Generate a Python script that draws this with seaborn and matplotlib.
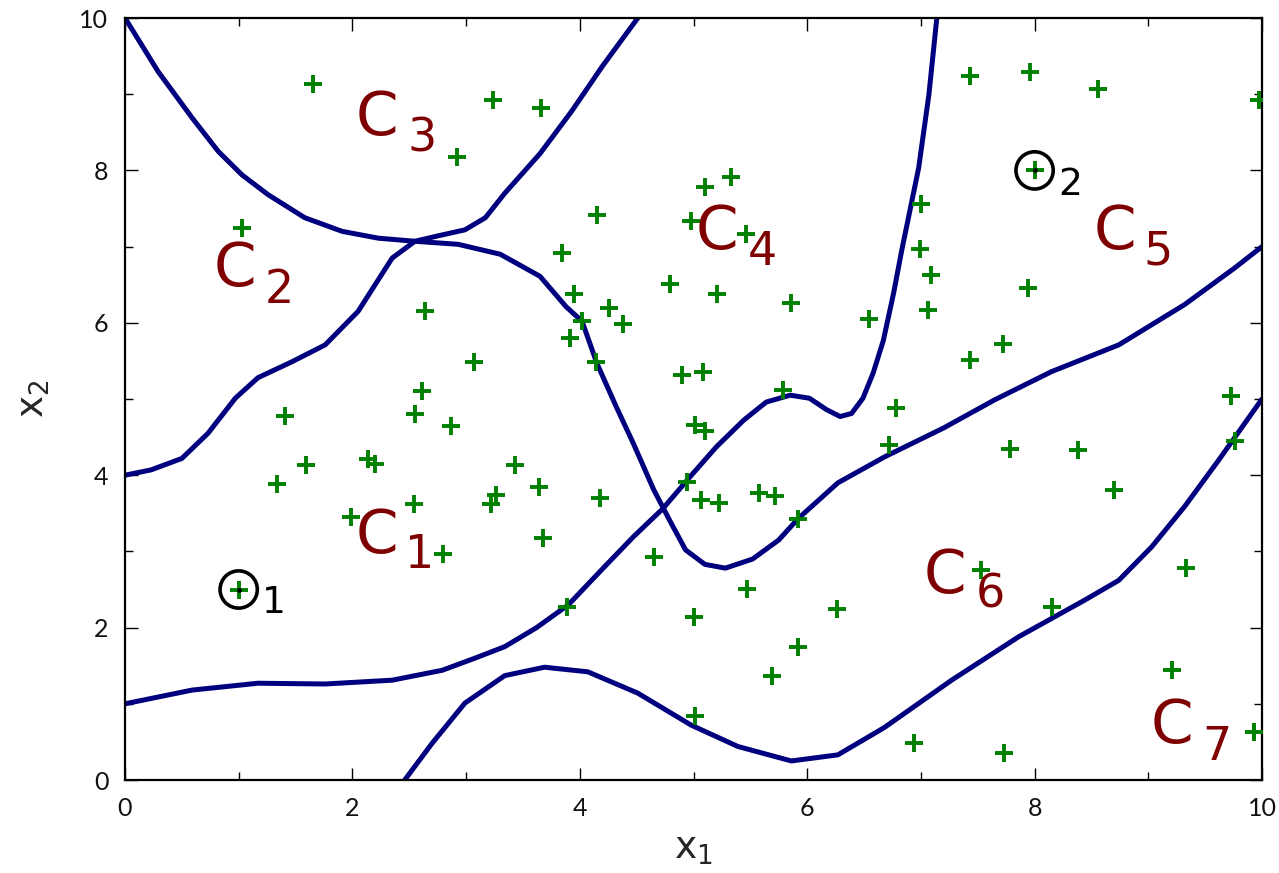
import numpy as np
import pandas as pd
import matplotlib
matplotlib.use("Agg")
import matplotlib.pyplot as plt
import seaborn as sns

# ---------------- data ----------------
pts_x = [1.65, 3.24, 2.92, 1.03, 2.64, 3.07, 2.61, 3.66, 4.15, 3.84, 5.33, 5.10, 4.98, 5.46,
         4.79, 3.95, 4.26, 4.38, 4.02, 3.91, 5.21, 5.86, 6.54, 4.14, 4.90, 5.08, 5.79,
         7.43, 7.96, 8.56, 9.97, 8.00, 7.00, 6.99, 7.09, 7.06, 7.94, 7.72, 7.43, 9.73,
         1.41, 2.55, 2.87, 1.59, 2.14, 2.20, 1.34, 1.99, 2.54, 3.22, 3.26, 2.80, 1.00,
         3.43, 3.64, 4.18, 3.68, 5.01, 5.10, 4.94, 5.07, 5.22, 5.58, 5.72, 5.92, 4.65,
         5.47, 3.89, 5.00, 6.26, 5.92, 5.69, 5.01, 6.78, 6.72, 7.78, 8.38, 8.70, 9.76,
         7.53, 8.15, 9.33, 9.21, 9.93, 6.94, 7.73]
pts_y = [9.14, 8.93, 8.17, 7.25, 6.16, 5.49, 5.10, 8.82, 7.41, 6.91, 7.91, 7.78, 7.33, 7.16,
         6.51, 6.38, 6.20, 5.99, 6.02, 5.80, 6.38, 6.26, 6.05, 5.48, 5.31, 5.36, 5.12,
         9.24, 9.29, 9.07, 8.93, 8.00, 7.56, 6.97, 6.63, 6.17, 6.46, 5.72, 5.51, 5.04,
         4.78, 4.80, 4.64, 4.13, 4.21, 4.15, 3.88, 3.45, 3.62, 3.62, 3.74, 2.97, 2.50,
         4.13, 3.84, 3.70, 3.17, 4.66, 4.58, 3.91, 3.67, 3.64, 3.77, 3.73, 3.43, 2.92,
         2.51, 2.27, 2.14, 2.25, 1.74, 1.36, 0.84, 4.88, 4.40, 4.35, 4.33, 3.81, 4.45,
         2.76, 2.27, 2.78, 1.45, 0.63, 0.49, 0.36]

# query points (circled)
query_x = [1.0, 8.0]
query_y = [2.5, 8.0]
query_labels = ["1", "2"]

# decision boundaries
b1_x = [0.0, 0.29, 0.59, 0.82, 1.03, 1.26, 1.58, 1.91, 2.23, 2.55, 2.93, 3.30, 3.65, 3.88,
        4.02, 4.15, 4.32, 4.47, 4.65, 4.80, 4.93, 5.10, 5.28, 5.52, 5.75, 5.92, 6.27, 6.68,
        7.20, 7.65, 8.15, 8.74, 9.32, 9.76, 10.0]
b1_y = [10.0, 9.30, 8.69, 8.25, 7.94, 7.68, 7.38, 7.20, 7.11, 7.07, 7.03, 6.90, 6.61, 6.21,
        6.02, 5.47, 4.90, 4.42, 3.81, 3.38, 3.02, 2.83, 2.78, 2.90, 3.15, 3.43, 3.90, 4.24,
        4.62, 4.99, 5.36, 5.71, 6.24, 6.72, 7.0]

b2_x = [0.0, 0.23, 0.50, 0.73, 0.97, 1.17, 1.47, 1.76, 2.05, 2.35, 2.55, 2.75, 2.99, 3.17,
        3.34, 3.65, 3.93, 4.20, 4.51]
b2_y = [4.0, 4.07, 4.22, 4.55, 5.01, 5.28, 5.49, 5.71, 6.15, 6.85, 7.07, 7.14, 7.22, 7.38,
        7.70, 8.22, 8.78, 9.37, 10.0]

b3_x = [0.0, 0.59, 1.17, 1.76, 2.35, 2.79, 3.08, 3.34, 3.62, 3.90, 4.18, 4.47, 4.73, 4.97,
        5.20, 5.44, 5.64, 5.85, 6.02, 6.17, 6.29, 6.39, 6.49, 6.58, 6.67, 6.76, 6.83, 6.98,
        7.07, 7.14]
b3_y = [1.0, 1.18, 1.27, 1.26, 1.31, 1.44, 1.60, 1.75, 2.00, 2.30, 2.74, 3.19, 3.56, 3.98,
        4.37, 4.72, 4.96, 5.05, 5.01, 4.86, 4.77, 4.81, 5.01, 5.34, 5.77, 6.39, 6.94, 8.03,
        8.99, 10.0]

b4_x = [2.46, 2.70, 2.99, 3.34, 3.69, 4.07, 4.51, 4.98, 5.39, 5.86, 6.27, 6.68, 7.27, 7.86,
        8.44, 8.74, 9.03, 9.32, 9.62, 10.0]
b4_y = [0.0, 0.48, 1.01, 1.37, 1.48, 1.42, 1.14, 0.72, 0.44, 0.25, 0.33, 0.69, 1.31, 1.88,
        2.36, 2.62, 3.06, 3.59, 4.20, 5.0]

boundaries = [(b1_x, b1_y), (b2_x, b2_y), (b3_x, b3_y), (b4_x, b4_y)]

# class labels: name, digit, position of "C" (center x, baseline y), digit position
class_names = ["C", "C", "C", "C", "C", "C", "C"]
class_digits = ["1", "2", "3", "4", "5", "6", "7"]
class_c_pos = [(2.22, 2.975), (0.97, 6.48), (2.22, 8.47), (5.21, 6.97), (8.71, 6.97),
               (7.21, 2.46), (9.21, 0.48)]
class_d_pos = [(2.59, 2.78), (1.36, 6.26), (2.61, 8.25), (5.61, 6.76), (9.09, 6.76),
               (7.61, 2.27), (9.60, 0.26)]
query_label_pos = [(1.31, 2.19), (8.31, 7.68)]

x_ticks = [0, 2, 4, 6, 8, 10]
y_ticks = [0, 2, 4, 6, 8, 10]

# ---------------- style ----------------
sns.set_style("white")
plt.rcParams["font.family"] = ["DejaVu Sans"]

NAVY = "#00007f"
GREEN = "#008000"
DARKRED = "#7f0000"

fig = plt.figure(figsize=(12.79, 8.73), dpi=100)
ax = fig.add_axes([125 / 1279, 93 / 873, 1137 / 1279, 762 / 873])

for bx, by in boundaries:
    sns.lineplot(x=bx, y=by, sort=False, estimator=None, color=NAVY, linewidth=3.6,
                 ax=ax, zorder=2, solid_joinstyle="round", solid_capstyle="round")

df = pd.DataFrame({"x1": pts_x, "x2": pts_y})
sns.scatterplot(data=df, x="x1", y="x2", marker="+", s=180, color=GREEN,
                linewidth=2.8, ax=ax, zorder=3)

qdf = pd.DataFrame({"x1": query_x, "x2": query_y})
sns.scatterplot(data=qdf, x="x1", y="x2", marker="o", s=720, facecolor="none",
                edgecolor="black", linewidth=2.6, ax=ax, zorder=4)
sns.scatterplot(data=qdf, x="x1", y="x2", marker="o", s=12, color="black",
                linewidth=0, ax=ax, zorder=5)

for lab, (lx, ly) in zip(query_labels, query_label_pos):
    ax.text(lx, ly, lab, fontsize=27, color="black", ha="center", va="baseline", zorder=6)

for name, dig, (cx, cy), (dx, dy) in zip(class_names, class_digits, class_c_pos, class_d_pos):
    ax.text(cx, cy, name, fontsize=44, color=DARKRED, ha="center", va="baseline", zorder=6)
    ax.text(dx, dy, dig, fontsize=33, color=DARKRED, ha="center", va="baseline", zorder=6)

ax.set_xlim(0, 10)
ax.set_ylim(0, 10)
ax.set_xticks(x_ticks)
ax.set_yticks(y_ticks)
ax.set_xticks([1, 3, 5, 7, 9], minor=True)
ax.set_yticks([1, 3, 5, 7, 9], minor=True)
ax.set_xticklabels([str(t) for t in x_ticks])
ax.set_yticklabels([str(t) for t in y_ticks])
ax.tick_params(which="both", direction="in", top=True, right=True, bottom=True, left=True,
               color="black", width=1.0)
ax.tick_params(which="major", length=9, labelsize=18, pad=12, labelcolor="#111111")
ax.tick_params(which="minor", length=6)
for lab in ax.get_xticklabels() + ax.get_yticklabels():
    lab.set_fontfamily(["Lato", "DejaVu Sans"])
    lab.set_fontweight("normal")

for sp in ax.spines.values():
    sp.set_visible(True)
    sp.set_color("black")
    sp.set_linewidth(1.6)

ax.set_xlabel(r"$\mathregular{x_1}$", fontsize=27, labelpad=8)
ax.set_ylabel(r"$\mathregular{x_2}$", fontsize=27, labelpad=20)

fig.savefig("out.png", dpi=100, facecolor="white")
